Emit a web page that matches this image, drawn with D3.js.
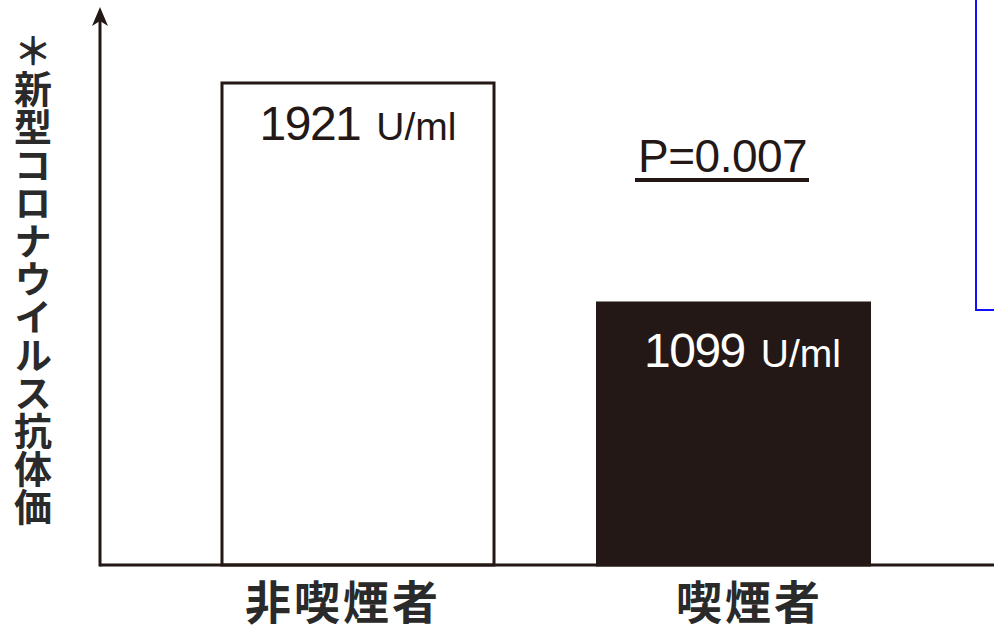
<!DOCTYPE html>
<html>
<head>
<meta charset="utf-8">
<script src="https://cdn.jsdelivr.net/npm/d3@7"></script>
<style>
  html, body { margin: 0; padding: 0; background: #fff; }
  svg { display: block; }
</style>
</head>
<body>
<div id="visual"></div>
<script>
// chart values
const categories = ["非喫煙者", "喫煙者"];
const values = [1921, 1099];
const unitLabel = "U/ml";
const pValueLabel = "P=0.007";
const yTitle = "＊新型コロナウイルス抗体価";

function BarChart() {
  const width = 994;
  const height = 631;
  const ink = "#231815";
  const jpFont = "'Noto Sans CJK JP', sans-serif";
  const numFont = "'Liberation Sans', Arial, sans-serif";

  // axis corner
  const x0 = 100, y0 = 565;

  const svg = d3.select("#visual")
    .append("svg")
    .attr("width", width)
    .attr("height", height);

  const data = categories.map((c, i) => ({ name: c, value: values[i] }));

  // bands laid out to sit where the original bars are
  const x = d3.scaleBand()
    .domain(categories)
    .range([118.5, 973])
    .paddingInner(0.2756)
    .paddingOuter(0.2756);

  // the source figure is not drawn from zero, so the baseline value is offset
  const y = d3.scaleLinear()
    .domain([120, 1921])
    .range([y0, 83]);

  // bars
  svg.selectAll("rect.bar")
    .data(data)
    .enter()
    .append("rect")
    .attr("class", "bar")
    .attr("x", d => x(d.name))
    .attr("y", d => y(d.value))
    .attr("width", x.bandwidth())
    .attr("height", d => y0 - y(d.value))
    .attr("fill", (d, i) => i === 0 ? "#fff" : ink)
    .attr("stroke", ink)
    .attr("stroke-width", 3);

  // value labels inside the bars
  const vl = svg.selectAll("text.val")
    .data(data)
    .enter()
    .append("text")
    .attr("class", "val")
    .attr("x", (d, i) => x(d.name) + x.bandwidth() / 2 + (i === 0 ? 0 : 9))
    .attr("y", (d, i) => y(d.value) + (i === 0 ? 57 : 64))
    .attr("text-anchor", "middle")
    .attr("fill", (d, i) => i === 0 ? ink : "#fff")
    .style("font-family", numFont);
  vl.append("tspan")
    .style("font-size", "48px")
    .attr("letter-spacing", -1.5)
    .text(d => d.value);
  vl.append("tspan")
    .attr("dx", 16)
    .style("font-size", "39px")
    .text(unitLabel);

  // axes with arrow
  svg.append("line")
    .attr("x1", x0).attr("y1", y0)
    .attr("x2", width).attr("y2", y0)
    .attr("stroke", ink).attr("stroke-width", 3);
  svg.append("line")
    .attr("x1", x0).attr("y1", y0 + 1.5)
    .attr("x2", x0).attr("y2", 14)
    .attr("stroke", ink).attr("stroke-width", 3);
  svg.append("path")
    .attr("d", `M${x0},7 L${x0 + 8},26 L${x0},21 L${x0 - 8},26 Z`)
    .attr("fill", ink);

  // category labels
  svg.selectAll("text.cat")
    .data(data)
    .enter()
    .append("text")
    .attr("class", "cat")
    .attr("x", (d, i) => x(d.name) + x.bandwidth() / 2 + (i === 0 ? -15 : 16))
    .attr("y", 599)
    .attr("text-anchor", "middle")
    .attr("dominant-baseline", "central")
    .attr("fill", "#2a2a2a")
    .style("font-family", jpFont)
    .style("font-size", "46px")
    .style("font-weight", 700)
    .attr("letter-spacing", 3)
    .text(d => d.name);

  // y title, vertical
  svg.append("text")
    .attr("x", 33)
    .attr("y", 32)
    .attr("fill", "#2a2a2a")
    .style("font-family", jpFont)
    .style("font-size", "38px")
    .style("font-weight", 700)
    .style("writing-mode", "vertical-rl")
    .style("text-orientation", "upright")
    .text(yTitle);

  // significance note
  svg.append("text")
    .attr("x", 638)
    .attr("y", 172)
    .attr("fill", ink)
    .style("font-family", numFont)
    .style("font-size", "46px")
    .attr("letter-spacing", -0.5)
    .text(pValueLabel);
  svg.append("line")
    .attr("x1", 635).attr("y1", 180)
    .attr("x2", 809).attr("y2", 180)
    .attr("stroke", ink).attr("stroke-width", 4);

  // blue frame at top right
  svg.append("rect")
    .attr("x", 976).attr("y", -5)
    .attr("width", 40).attr("height", 315)
    .attr("fill", "none")
    .attr("stroke", "#1010ff")
    .attr("stroke-width", 2);
}

BarChart();
</script>
</body>
</html>
